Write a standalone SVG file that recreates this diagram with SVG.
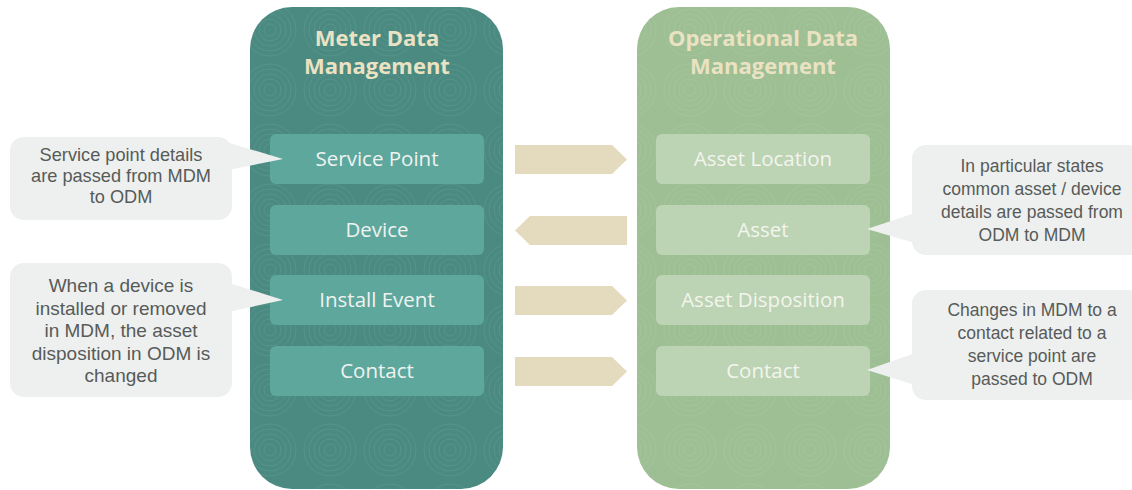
<svg xmlns="http://www.w3.org/2000/svg" width="1132" height="490" viewBox="0 0 1132 490">
<defs>
<pattern id="swirl" width="60" height="60" patternUnits="userSpaceOnUse">
<g fill="none" stroke="#ffffff" stroke-opacity="0.07" stroke-width="1">
<circle cx="30" cy="30" r="6"/><circle cx="30" cy="30" r="11"/><circle cx="30" cy="30" r="16"/><circle cx="30" cy="30" r="21"/><circle cx="30" cy="30" r="26"/>
</g>
</pattern>
<style>
.title{font-family:"Open Sans","Noto Sans",sans-serif;font-weight:bold;font-size:22px;fill:#eae2c3;text-anchor:middle}
.lbl{font-family:"Open Sans","Noto Sans",sans-serif;font-size:20.5px;text-anchor:middle}
.lbox{fill:#5ea79d}
.rbox{fill:#bcd3b4}
.ltxt{fill:#eef3f0}
.rtxt{fill:#f3f5ee}
.call{fill:#eef0ef}
.ctxt{font-family:"Liberation Sans","Open Sans",sans-serif;font-size:17.5px;fill:#575b59;text-anchor:middle}
.c1{font-size:18.2px}
.c2{font-size:19px}
.arrow{fill:#e4dbbe}
</style>
</defs>
<rect width="1132" height="490" fill="#ffffff"/>
<g id="mdm">
<rect x="250" y="7" width="253" height="482" rx="42" fill="#4a8a81"/>
<rect x="250" y="7" width="253" height="482" rx="42" fill="url(#swirl)"/>
<text class="title" x="377" y="46">Meter Data</text>
<text class="title" x="377" y="74">Management</text>
</g>
<g id="odm">
<rect x="637" y="7" width="253" height="482" rx="42" fill="#9dbf93"/>
<rect x="637" y="7" width="253" height="482" rx="42" fill="url(#swirl)"/>
<text class="title" x="763" y="46">Operational Data</text>
<text class="title" x="763" y="74">Management</text>
</g>
<g id="service-point"><rect class="lbox" x="270" y="134" width="214" height="50" rx="6"/><text class="lbl ltxt" x="377" y="166">Service Point</text></g>
<g id="device"><rect class="lbox" x="270" y="205" width="214" height="50" rx="6"/><text class="lbl ltxt" x="377" y="237">Device</text></g>
<g id="install-event"><rect class="lbox" x="270" y="275" width="214" height="50" rx="6"/><text class="lbl ltxt" x="377" y="307">Install Event</text></g>
<g id="contact-mdm"><rect class="lbox" x="270" y="346" width="214" height="50" rx="6"/><text class="lbl ltxt" x="377" y="378">Contact</text></g>
<g id="asset-location"><rect class="rbox" x="656" y="134" width="214" height="50" rx="6"/><text class="lbl rtxt" x="763" y="166">Asset Location</text></g>
<g id="asset"><rect class="rbox" x="656" y="205" width="214" height="50" rx="6"/><text class="lbl rtxt" x="763" y="237">Asset</text></g>
<g id="asset-disposition"><rect class="rbox" x="656" y="275" width="214" height="50" rx="6"/><text class="lbl rtxt" x="763" y="307">Asset Disposition</text></g>
<g id="contact-odm"><rect class="rbox" x="656" y="346" width="214" height="50" rx="6"/><text class="lbl rtxt" x="763" y="378">Contact</text></g>
<g id="connectors">
<polygon class="arrow" points="515,145 612,145 627,159.5 612,174 515,174"/>
<polygon class="arrow" points="627,216 530,216 515,230.5 530,245 627,245"/>
<polygon class="arrow" points="515,286 612,286 627,300.5 612,315 515,315"/>
<polygon class="arrow" points="515,357 612,357 627,371.5 612,386 515,386"/>
</g>
<g id="callout-service-point">
<rect class="call" x="10" y="137" width="222" height="83" rx="14"/>
<polygon class="call" points="226,142 283,159 228,170"/>
<text class="ctxt c1" x="121" y="161">Service point details</text>
<text class="ctxt c1" x="121" y="182">are passed from MDM</text>
<text class="ctxt c1" x="121" y="203">to ODM</text>
</g>
<g id="callout-install-event">
<rect class="call" x="10" y="263" width="222" height="134" rx="14"/>
<polygon class="call" points="226,282 283,300 228,312"/>
<text class="ctxt c2" x="121" y="292">When a device is</text>
<text class="ctxt c2" x="121" y="314.5">installed or removed</text>
<text class="ctxt c2" x="121" y="337">in MDM, the asset</text>
<text class="ctxt c2" x="121" y="359.5">disposition in ODM is</text>
<text class="ctxt c2" x="121" y="382">changed</text>
</g>
<g id="callout-asset">
<rect class="call" x="912" y="145" width="230" height="110" rx="14"/>
<polygon class="call" points="918,212 867,229 918,244"/>
<text class="ctxt" x="1032" y="172">In particular states</text>
<text class="ctxt" x="1032" y="195">common asset / device</text>
<text class="ctxt" x="1032" y="218">details are passed from</text>
<text class="ctxt" x="1032" y="241">ODM to MDM</text>
</g>
<g id="callout-contact">
<rect class="call" x="912" y="290" width="230" height="110" rx="14"/>
<polygon class="call" points="918,352 867,370 918,386"/>
<text class="ctxt" x="1032" y="316">Changes in MDM to a</text>
<text class="ctxt" x="1032" y="339">contact related to a</text>
<text class="ctxt" x="1032" y="362">service point are</text>
<text class="ctxt" x="1032" y="385">passed to ODM</text>
</g>
</svg>
